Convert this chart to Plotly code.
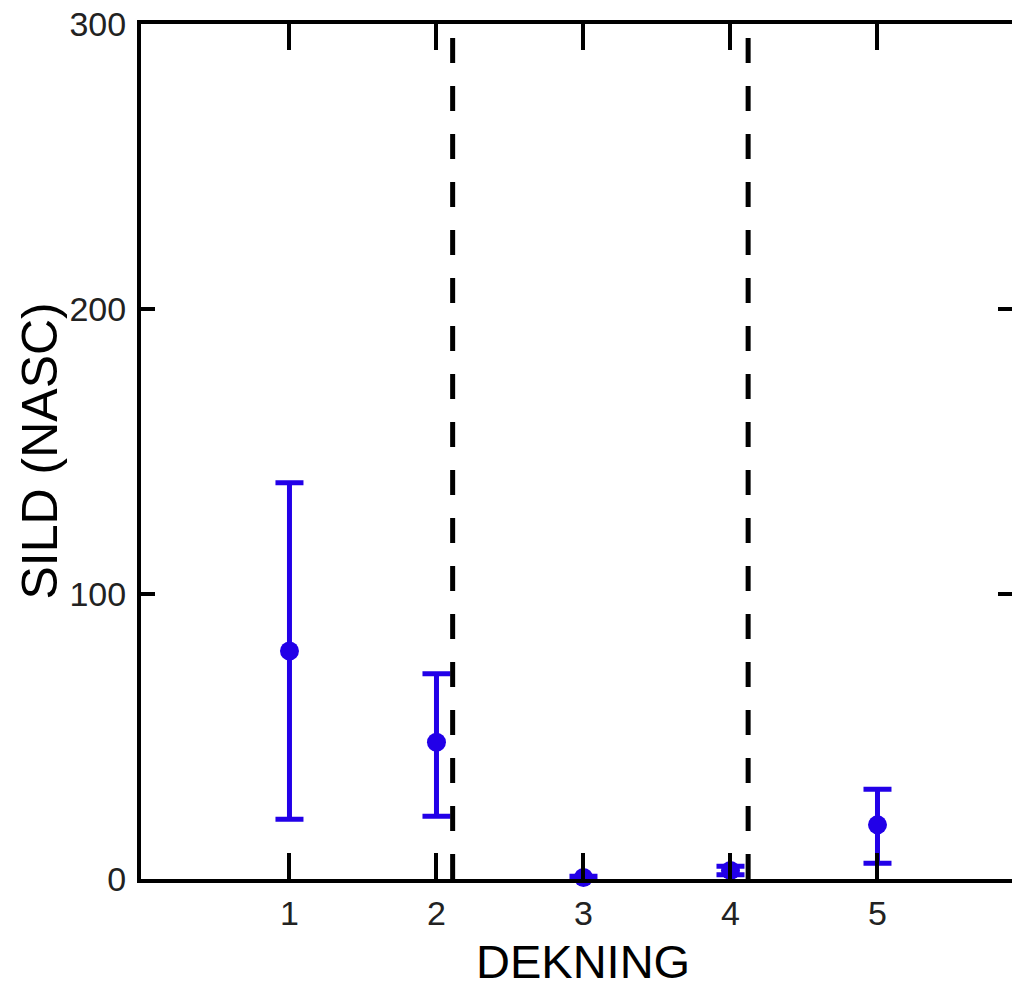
import plotly.graph_objects as go

# Mean herring acoustic density (NASC) per coverage, with error bar limits
dekning = [1, 2, 3, 4, 5]
sild_mean = [80, 48, 0.5, 3, 19]
sild_upper = [139, 72, 1.0, 4.5, 31.5]
sild_lower = [21, 22, 0.0, 1.5, 5.5]

# Boundaries between coverage groups
grenser = [2.11, 4.12]

y_ticks = [0, 100, 200, 300]
x_ticks = [1, 2, 3, 4, 5]

BLUE = "#2200E8"
FONT = "Liberation Sans, Arial, sans-serif"

err_plus = [u - m for u, m in zip(sild_upper, sild_mean)]
err_minus = [m - l for m, l in zip(sild_mean, sild_lower)]

fig = go.Figure()

for g in grenser:
    fig.add_trace(go.Scatter(
        x=[g, g], y=[0, 300], mode="lines", yaxis="y2",
        line=dict(color="black", width=5, dash="25px,23px"),
        hoverinfo="skip", showlegend=False,
    ))

fig.add_trace(go.Scatter(
    x=dekning, y=sild_mean, mode="markers",
    marker=dict(color=BLUE, size=19, symbol="circle"),
    error_y=dict(type="data", array=err_plus, arrayminus=err_minus,
                 color=BLUE, thickness=5, width=14),
    showlegend=False, cliponaxis=False,
))

x_range = [-0.01, 5.915]

fig.update_layout(
    width=1012, height=988,
    margin=dict(l=141, r=0, t=24, b=109),
    plot_bgcolor="white", paper_bgcolor="white",
    font=dict(family=FONT, color="#222222", size=34),
    xaxis=dict(
        range=x_range, tickvals=x_ticks, ticktext=[str(v) for v in x_ticks],
        ticks="inside", ticklen=26, tickwidth=4, tickcolor="black",
        showline=True, linewidth=4, linecolor="black", mirror="ticks",
        showgrid=False, zeroline=False, ticklabelstandoff=1,
    ),
    yaxis=dict(
        range=[0, 300], tickvals=y_ticks, ticktext=[str(v) for v in y_ticks],
        ticks="inside", ticklen=14, tickwidth=4, tickcolor="black",
        showline=True, linewidth=4, linecolor="black",
        showgrid=False, zeroline=False, ticklabelstandoff=4,
    ),
    yaxis2=dict(
        range=[0, 300], overlaying="y", side="right", tickvals=y_ticks,
        showticklabels=False, ticks="inside", ticklen=14, tickwidth=4,
        tickcolor="black", showline=False, showgrid=False, zeroline=False,
    ),
    annotations=[
        dict(text="DEKNING", x=3, xref="x", y=0, yref="paper",
             yanchor="middle", yshift=-82, showarrow=False,
             font=dict(family=FONT, size=47, color="black")),
        dict(text="SILD (NASC)", x=0, xref="paper", y=0.5, yref="paper",
             xanchor="center", xshift=-102, textangle=-90, showarrow=False,
             font=dict(family=FONT, size=50, color="black")),
    ],
)

fig.write_html("out.html")
